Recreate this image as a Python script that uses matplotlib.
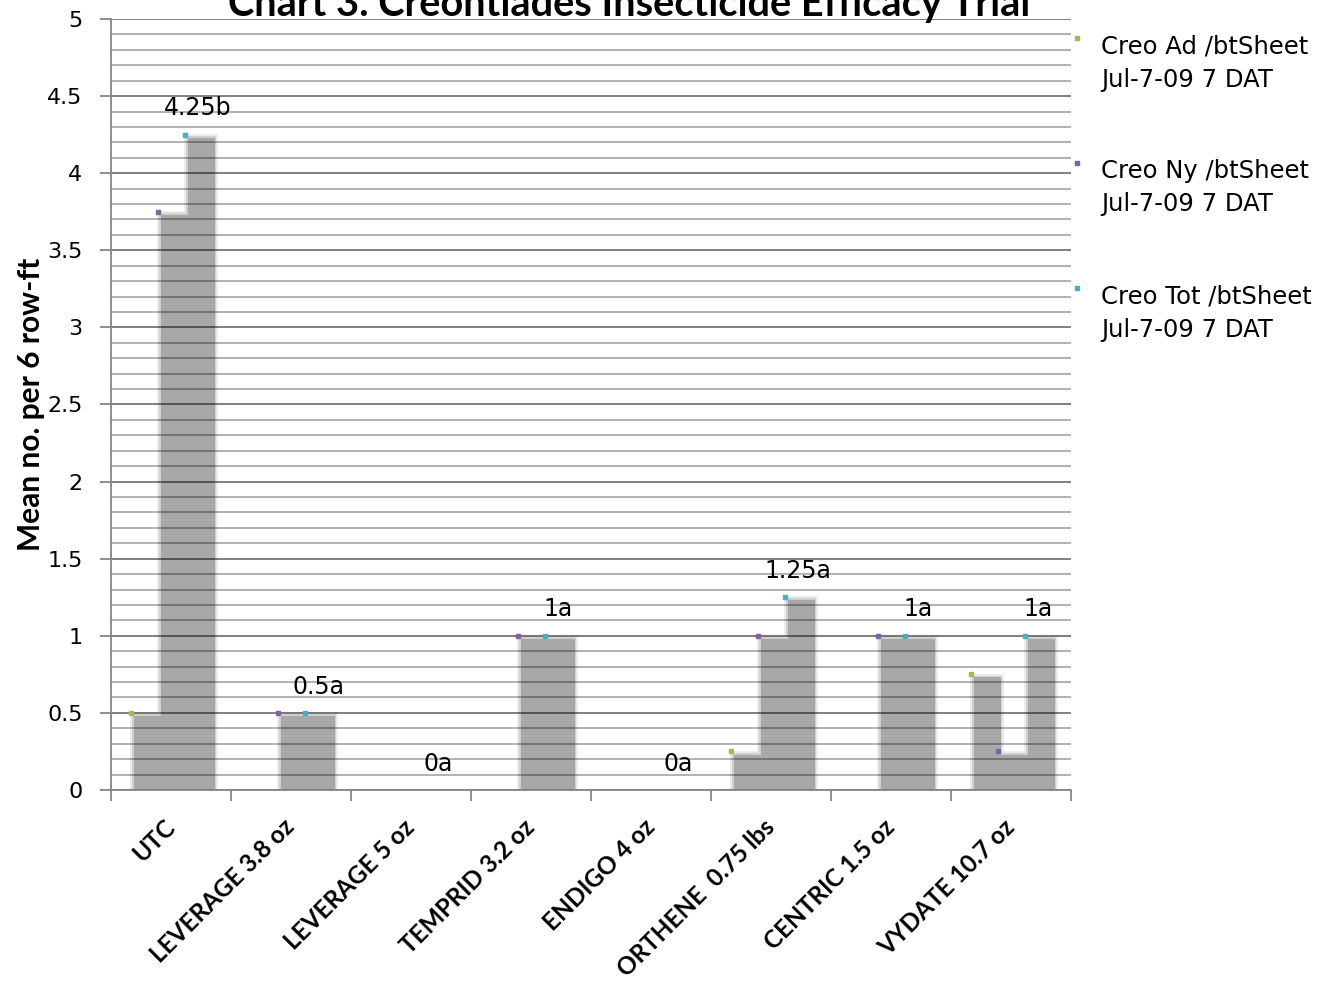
import matplotlib
matplotlib.use("Agg")
import matplotlib.pyplot as plt
from matplotlib.lines import Line2D
import numpy as np

categories = ["UTC", "LEVERAGE 3.8 oz", "LEVERAGE 5 oz", "TEMPRID 3.2 oz",
              "ENDIGO 4 oz", "ORTHENE  0.75 lbs", "CENTRIC 1.5 oz", "VYDATE 10.7 oz"]
series_names = ["Creo Ad /btSheet\nJul-7-09 7 DAT",
                "Creo Ny /btSheet\nJul-7-09 7 DAT",
                "Creo Tot /btSheet\nJul-7-09 7 DAT"]
creo_ad = [0.5, 0, 0, 0, 0, 0.25, 0, 0.75]
creo_ny = [3.75, 0.5, 0, 1, 0, 1, 1, 0.25]
creo_tot = [4.25, 0.5, 0, 1, 0, 1.25, 1, 1]
tot_labels = ["4.25b", "0.5a", "0a", "1a", "0a", "1.25a", "1a", "1a"]

marker_colors = ["#9bbb59", "#8064a2", "#4bacc6"]

W, H = 1328, 981
fig = plt.figure(figsize=(W / 100, H / 100), dpi=100)
ax = fig.add_axes([111 / W, 1 - 790 / H, 960 / W, 771 / H])

x = np.arange(len(categories))
bw = 0.225
offsets = [-0.225, 0.0, 0.225]
sdx, sdy = 0.025, 0.02  # shadow offset (style)
all_series = [creo_ad, creo_ny, creo_tot]

# soft-edged grey "shadow" bars, drawn layer by layer (outer halo first)
layers = [(0.03, 0.025, "#ececec"), (0.015, 0.012, "#cfcfcf"), (0.0, 0.0, "#a8a8a8")]
for kx, ky, col in layers:
    for vals, off in zip(all_series, offsets):
        v = np.array(vals, dtype=float)
        h = np.clip(v - sdy + ky, 0, None) * (v > 0)
        ax.bar(x + off + sdx, h, width=bw + 2 * kx, color=col, linewidth=0, zorder=1)

for vals, off, c in zip(all_series, offsets, marker_colors):
    v = np.array(vals, dtype=float)
    ax.plot(x + off - bw / 2, np.where(v > 0, v, np.nan), linestyle="none", marker="s",
            markersize=3, color=c, zorder=4, clip_on=False)

for xi, v, lab in zip(x, creo_tot, tot_labels):
    ax.annotate(lab, (xi + offsets[2], v), xytext=(0, 19), textcoords="offset points",
                ha="center", va="center", fontsize=17, family="DejaVu Sans", color="black")

ax.set_xlim(-0.5, len(categories) - 0.5)
ax.set_ylim(0, 5)

ax.set_yticks(np.arange(0, 5.01, 0.5))
ax.set_yticklabels(["0", "0.5", "1", "1.5", "2", "2.5", "3", "3.5", "4", "4.5", "5"])
ax.set_yticks(np.arange(0, 5.01, 0.1), minor=True)
ax.grid(True, which="major", axis="y", color="black", alpha=0.5, linewidth=1.4, zorder=2)
ax.grid(True, which="minor", axis="y", color="black", alpha=0.33, linewidth=1.3, zorder=2)
ax.set_axisbelow(False)

ax.set_xticks(x)
ax.set_xticklabels(categories, rotation=45, ha="right", va="center",
                   rotation_mode="anchor", fontsize=17.5, fontweight="bold", family="Lato")
ax.set_xticks(np.arange(-0.5, len(categories), 1), minor=True)
ax.tick_params(axis="x", which="major", length=0, pad=24)
ax.tick_params(axis="x", which="minor", length=8, color="#868686", width=1.3)
ax.tick_params(axis="y", which="major", length=8, color="#868686", width=1.3,
               labelsize=16, pad=12.5)
ax.tick_params(axis="y", which="minor", length=0)
for t in ax.get_yticklabels():
    t.set_family("DejaVu Sans")

for s in ["top", "right"]:
    ax.spines[s].set_visible(False)
for s in ["left", "bottom"]:
    ax.spines[s].set_color("#868686")
    ax.spines[s].set_linewidth(1.3)
    ax.spines[s].set_zorder(5)

ax.set_ylabel("Mean no. per 6 row-ft", fontsize=21.5, fontweight="bold", family="Lato")
ax.yaxis.set_label_coords(-0.069, 0.5)

fig.text(629 / W, 1 - 16 / H, "Chart 3. Creontiades Insecticide Efficacy Trial",
         ha="center", va="baseline", fontsize=28.6, fontweight="bold", family="Lato")

# legend (drawn manually to match the original's spacing)
for i, (name, c) in enumerate(zip(series_names, marker_colors)):
    y0 = 38 + i * 125
    fig.add_artist(Line2D([1077 / W], [1 - y0 / H], transform=fig.transFigure,
                          linestyle="none", marker="s", markersize=2.5, color=c))
    fig.text(1101 / W, 1 - 34 / H - i * 125 / H, name, ha="left", va="top",
             fontsize=17.5, family="DejaVu Sans", linespacing=1.5)

fig.savefig("out.png", dpi=100)
